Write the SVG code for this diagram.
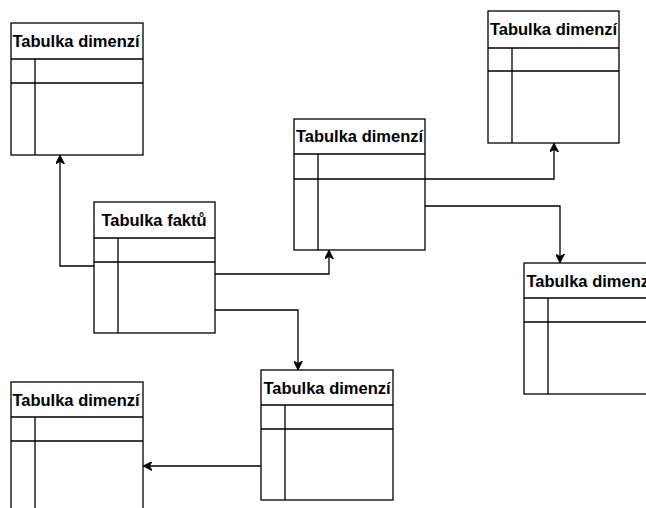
<svg xmlns="http://www.w3.org/2000/svg" width="646" height="508" viewBox="0 0 646 508">
<style>
.box{fill:#fff;stroke:#000;stroke-width:1.3}
.ln{fill:none;stroke:#000;stroke-width:1.3}
.t{font-family:"Liberation Sans",Arial,sans-serif;font-weight:bold;font-size:16.5px;text-anchor:middle;fill:#000}
.c{fill:none;stroke:#000;stroke-width:1.3}
</style>
<defs>
<marker id="a" viewBox="0 0 10 10" refX="9" refY="5" markerWidth="9" markerHeight="9" markerUnits="userSpaceOnUse" orient="auto">
<path d="M0,0 L10,5 L0,10 L3,5 Z" fill="#000" stroke="#000" stroke-width="1"/>
</marker>
</defs>
<g id="connectors">
<path class="c" d="M94,266 H60 V156" marker-end="url(#a)"/>
<path class="c" d="M215,274 H329 V251" marker-end="url(#a)"/>
<path class="c" d="M215,310 H298 V369" marker-end="url(#a)"/>
<path class="c" d="M425,179 H554 V144" marker-end="url(#a)"/>
<path class="c" d="M425,206 H560 V262" marker-end="url(#a)"/>
<path class="c" d="M261,466 H144" marker-end="url(#a)"/>
</g>
<g id="dim1">
<rect class="box" x="11" y="23" width="132" height="132"/>
<path class="ln" d="M11,59 H143 M11,83 H143 M35,59 V155"/>
<text class="t" x="76" y="47">Tabulka dimenzí</text>
</g>
<g id="fact">
<rect class="box" x="94" y="202" width="121" height="131"/>
<path class="ln" d="M94,238 H215 M94,262 H215 M118,238 V333"/>
<text class="t" x="154" y="226">Tabulka faktů</text>
</g>
<g id="dim2">
<rect class="box" x="294" y="119" width="131" height="131"/>
<path class="ln" d="M294,154 H425 M294,179 H425 M318,154 V250"/>
<text class="t" x="359.5" y="142">Tabulka dimenzí</text>
</g>
<g id="dim3">
<rect class="box" x="488" y="11" width="131" height="132"/>
<path class="ln" d="M488,48 H619 M488,71 H619 M512,48 V143"/>
<text class="t" x="553.5" y="35">Tabulka dimenzí</text>
</g>
<g id="dim4">
<rect class="box" x="524" y="263" width="132" height="131"/>
<path class="ln" d="M524,298 H656 M524,322 H656 M548,298 V394"/>
<text class="t" x="590" y="287">Tabulka dimenzí</text>
</g>
<g id="dim5">
<rect class="box" x="11" y="382" width="132" height="140"/>
<path class="ln" d="M11,417 H143 M11,441 H143 M35,417 V522"/>
<text class="t" x="76" y="406">Tabulka dimenzí</text>
</g>
<g id="dim6">
<rect class="box" x="261" y="370" width="132" height="130"/>
<path class="ln" d="M261,405 H393 M261,429 H393 M285,405 V500"/>
<text class="t" x="327" y="394">Tabulka dimenzí</text>
</g>
</svg>
